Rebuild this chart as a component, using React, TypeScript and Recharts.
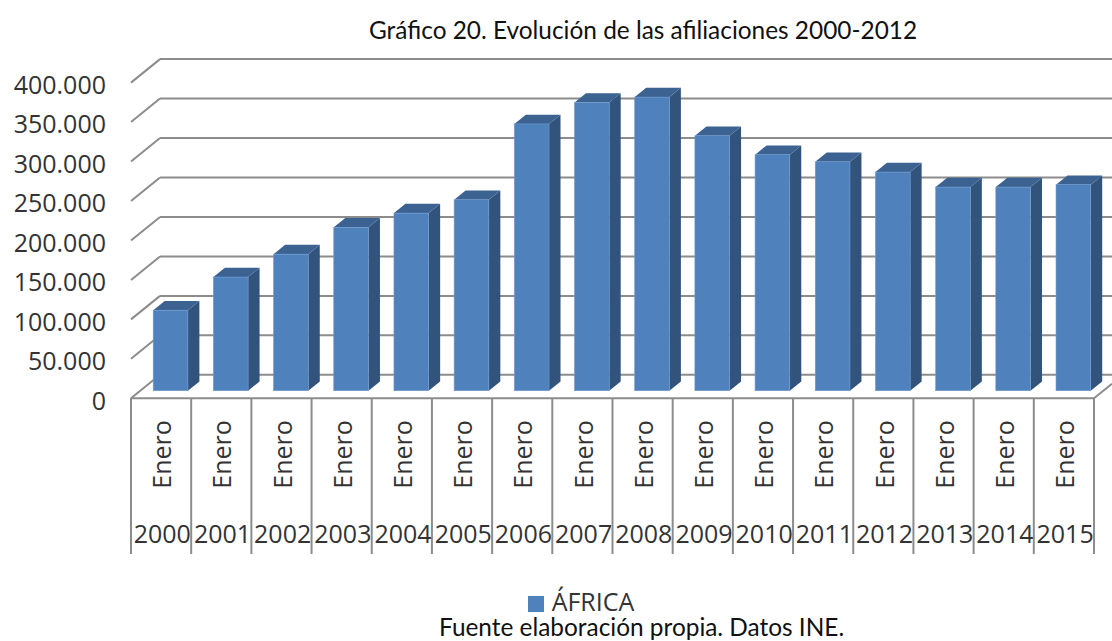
import { BarChart, Bar, XAxis, YAxis, CartesianGrid, Legend } from 'recharts';

const years = ['2000', '2001', '2002', '2003', '2004', '2005', '2006', '2007', '2008', '2009', '2010', '2011', '2012', '2013', '2014', '2015'];
const months = ['Enero', 'Enero', 'Enero', 'Enero', 'Enero', 'Enero', 'Enero', 'Enero', 'Enero', 'Enero', 'Enero', 'Enero', 'Enero', 'Enero', 'Enero', 'Enero'];
const africa = [102000, 144000, 173000, 207000, 225000, 242000, 338000, 365000, 372000, 323000, 299000, 290000, 277000, 258000, 258000, 261000];
const yTicks = [0, 50000, 100000, 150000, 200000, 250000, 300000, 350000, 400000];

const data = years.map((year, i) => ({ year, month: months[i], africa: africa[i] }));

const GRID = '#8c8c8c';
const TEXT = '#333333';
const FONT = '"Open Sans", sans-serif';

const formatTick = (v: number) => String(v).replace(/\B(?=(\d{3})+$)/g, '.');

// fake 3D column: front face, right side, top
function Bar3D({ x, y, width, height, fill }: any) {
  const dx = 11.5;
  const dy = 9.3;
  const r = x + width;
  const b = y + height;
  return (
    <g>
      <polygon points={`${r},${y} ${r + dx},${y - dy} ${r + dx},${b - dy} ${r},${b}`} fill="#32547c" />
      <polygon points={`${x},${y} ${x + dx},${y - dy} ${r + dx},${y - dy} ${r},${y}`} fill="#3b6291" />
      <rect x={x} y={y} width={width} height={height} fill={fill} stroke="#6f9bd0" strokeWidth={0.6} />
    </g>
  );
}

// each gridline runs along the side wall and then across the back wall
function WallLine({ y1, x2 }: any) {
  const isFloor = Math.abs(y1 - 390.7) < 1;
  return (
    <g stroke={GRID} strokeWidth={2} fill="none">
      <line x1={131} y1={y1 + 7.6} x2={160} y2={y1 - 15.9} />
      <line x1={160} y1={y1 - 15.9} x2={x2 + 9} y2={y1 - 15.9} />
      {isFloor && <line x1={131} y1={y1 + 7.6} x2={1094} y2={y1 + 7.6} />}
      {isFloor && <line x1={1094} y1={y1 + 7.6} x2={1112} y2={y1 - 7} />}
    </g>
  );
}

function YearTick({ x, payload, index }: any) {
  const left = x - 39.3;
  const step = 60.19;
  const cx = x - 8;
  return (
    <g>
      <line x1={left} y1={398} x2={left} y2={554} stroke={GRID} strokeWidth={2} />
      {index === years.length - 1 && (
        <line x1={left + step} y1={398} x2={left + step} y2={554} stroke={GRID} strokeWidth={2} />
      )}
      <text
        transform={`translate(${cx + 9},454.5) rotate(-90)`}
        textAnchor="middle"
        fontFamily={FONT}
        fontSize={25}
        fill={TEXT}
      >
        {months[index]}
      </text>
      <text x={cx} y={543} textAnchor="middle" fontFamily={FONT} fontSize={25} fill={TEXT}>
        {payload.value}
      </text>
    </g>
  );
}

function ValueTick({ y, payload }: any) {
  return (
    <text x={106} y={y + 19} textAnchor="end" fontFamily={FONT} fontSize={25} fill={TEXT}>
      {formatTick(payload.value)}
    </text>
  );
}

const noteStyle: React.CSSProperties = {
  position: 'absolute',
  left: 0,
  width: 1112,
  fontFamily: 'Lato, sans-serif',
  fontSize: 24.4,
  lineHeight: '24px',
  color: '#111111',
  whiteSpace: 'nowrap',
};

export default function App() {
  return (
    <div style={{ position: 'absolute', left: 0, top: 0, width: 1112, height: 641, background: '#fff', overflow: 'hidden' }}>
      <BarChart
        width={1112}
        height={641}
        data={data}
        margin={{ top: 75, right: 8.8, bottom: 0, left: 0 }}
      >
        <CartesianGrid vertical={false} horizontal={(props: any) => <WallLine key={props.key} {...props} />} />
        <XAxis dataKey="year" height={250.3} axisLine={false} tickLine={false} tick={<YearTick />} interval={0} />
        <YAxis
          width={140.2}
          domain={[0, 400000]}
          ticks={yTicks}
          interval={0}
          axisLine={false}
          tickLine={false}
          tick={<ValueTick />}
        />
        <Legend
          layout="horizontal"
          verticalAlign="middle"
          iconType="square"
          iconSize={16}
          wrapperStyle={{ position: 'absolute', left: 516, top: 591, width: 140, fontFamily: FONT, fontSize: 25, lineHeight: '20px' }}
          formatter={(value) => <span style={{ color: TEXT, marginLeft: 4 }}>{value}</span>}
        />
        <Bar dataKey="africa" name="ÁFRICA" fill="#4f81bd" barSize={34.7} shape={<Bar3D />} isAnimationActive={false} />
      </BarChart>
      <div style={{ ...noteStyle, top: 18, paddingLeft: 369 }}>
        Gráfico 20. Evolución de las afiliaciones 2000-2012
      </div>
      <div style={{ ...noteStyle, top: 615, paddingLeft: 439 }}>
        Fuente elaboración propia. Datos INE.
      </div>
    </div>
  );
}
